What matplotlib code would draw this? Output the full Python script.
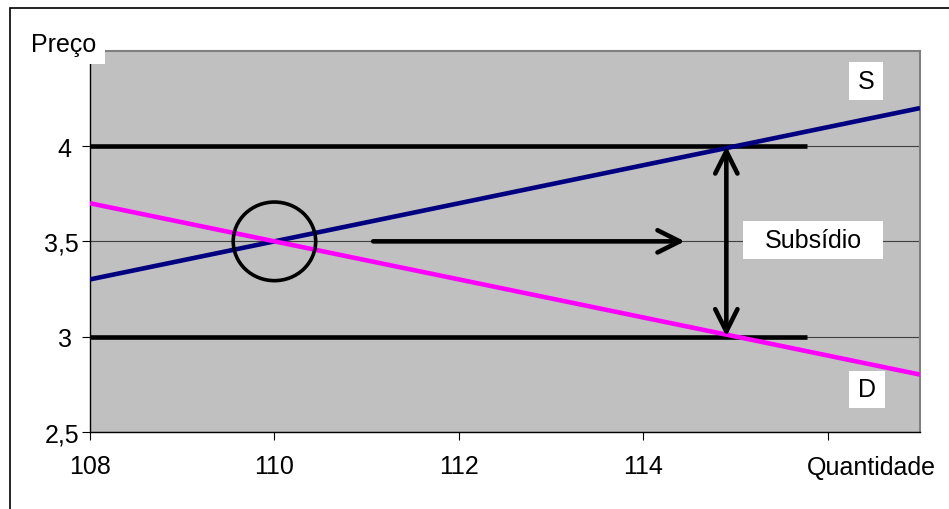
import numpy as np
import matplotlib.pyplot as plt
from matplotlib.patches import Rectangle, Ellipse

plt.rcParams['font.family'] = ['Liberation Sans', 'DejaVu Sans']

# dados
quantidade = [108, 109, 110, 111, 112, 113, 114, 115, 116, 117]
oferta = [3.3, 3.4, 3.5, 3.6, 3.7, 3.8, 3.9, 4.0, 4.1, 4.2]
procura = [3.7, 3.6, 3.5, 3.4, 3.3, 3.2, 3.1, 3.0, 2.9, 2.8]

precos_subsidio = [4.0, 3.0]
q_inicio_subsidio = 108
q_fim_subsidio = 115.77

equilibrio = (110, 3.5)
seta_q = [111.07, 114.45]
seta_p = [3.0, 4.0]
q_seta_vertical = 114.9

xticks = [108, 110, 112, 114, 116]
xticklabels = ['108', '110', '112', '114', '']
yticks = [2.5, 3.0, 3.5, 4.0]
yticklabels = ['2,5', '3 ', '3,5', '4 ']

W, H = 949, 510
fig = plt.figure(figsize=(W / 100, H / 100), dpi=100)
fig.patch.set_facecolor('white')


def fx(px):
    return px / W


def fy(py):
    return 1 - py / H


ax = fig.add_axes([fx(90), fy(432.7), fx(920) - fx(90), fy(52) - fy(432.7)])
ax.set_facecolor('#C0C0C0')
ax.set_xlim(108, 117)
ax.set_ylim(2.5, 4.5)

ax.set_yticks(yticks)
ax.set_yticklabels(yticklabels)
ax.set_xticks(xticks)
ax.set_xticklabels(xticklabels)
ax.tick_params(axis='both', direction='out', length=5.8, width=0.8, labelsize=18, color='black')
ax.tick_params(axis='y', pad=2)
ax.tick_params(axis='x', pad=10)

ax.set_axisbelow(True)
ax.yaxis.grid(True, color='#404040', lw=0.8)
for side in ['top', 'right']:
    ax.spines[side].set_color('#808080')
    ax.spines[side].set_linewidth(1.5)
for side in ['left', 'bottom']:
    ax.spines[side].set_color('black')
    ax.spines[side].set_linewidth(1.0)

# linhas do subsídio
ax.hlines(precos_subsidio, q_inicio_subsidio, q_fim_subsidio, colors='black', lw=3.3, zorder=2)

# curvas de oferta e procura
ax.plot(quantidade, oferta, color='#000080', lw=3.3, zorder=3, solid_capstyle='butt')
ax.plot(quantidade, procura, color='#FF00FF', lw=3.3, zorder=3, solid_capstyle='butt')

# círculo no equilíbrio
ax.add_patch(Ellipse(equilibrio, 0.894, 0.413, fill=False, ec='black', lw=2.6, zorder=4))

# setas
estilo = dict(lw=3.3, color='black', shrinkA=0, shrinkB=0, mutation_scale=20,
              capstyle='round', joinstyle='round')
ax.annotate('', xy=(seta_q[1], equilibrio[1]), xytext=(seta_q[0], equilibrio[1]),
            arrowprops=dict(arrowstyle='->,head_length=0.8,head_width=0.4', **estilo), zorder=5)
ax.annotate('', xy=(q_seta_vertical, seta_p[1]), xytext=(q_seta_vertical, seta_p[0]),
            arrowprops=dict(arrowstyle='<->,head_length=0.8,head_width=0.4', **estilo), zorder=5)

# caixas de texto
ax.add_patch(Rectangle((115.08, 3.409), 1.52, 0.200, fc='white', ec='none', zorder=6))
ax.text(115.84, 3.509, 'Subsídio', ha='center', va='center', fontsize=18, zorder=7)
ax.add_patch(Rectangle((116.23, 4.24), 0.37, 0.20, fc='white', ec='none', zorder=6))
ax.text(116.415, 4.34, 'S', ha='center', va='center', fontsize=18, zorder=7)
ax.add_patch(Rectangle((116.23, 2.624), 0.39, 0.195, fc='white', ec='none', zorder=6))
ax.text(116.425, 2.722, 'D', ha='center', va='center', fontsize=18, zorder=7)

# moldura exterior e rótulos dos eixos
fig.patches.append(Rectangle((fx(10), fy(600)), 1.2, fy(9) - fy(600), transform=fig.transFigure,
                             fill=False, ec='black', lw=1.2, zorder=1))
fig.patches.append(Rectangle((fx(25), fy(65)), fx(105) - fx(25), fy(28) - fy(65), transform=fig.transFigure,
                             fc='white', ec='none', zorder=2))
fig.text(fx(30.7), fy(51.7), 'Preço', ha='left', va='baseline', fontsize=18, zorder=3)
fig.text(fx(806.7), fy(475), 'Quantidade', ha='left', va='baseline', fontsize=18, zorder=3)

fig.savefig('out.png', dpi=100)
